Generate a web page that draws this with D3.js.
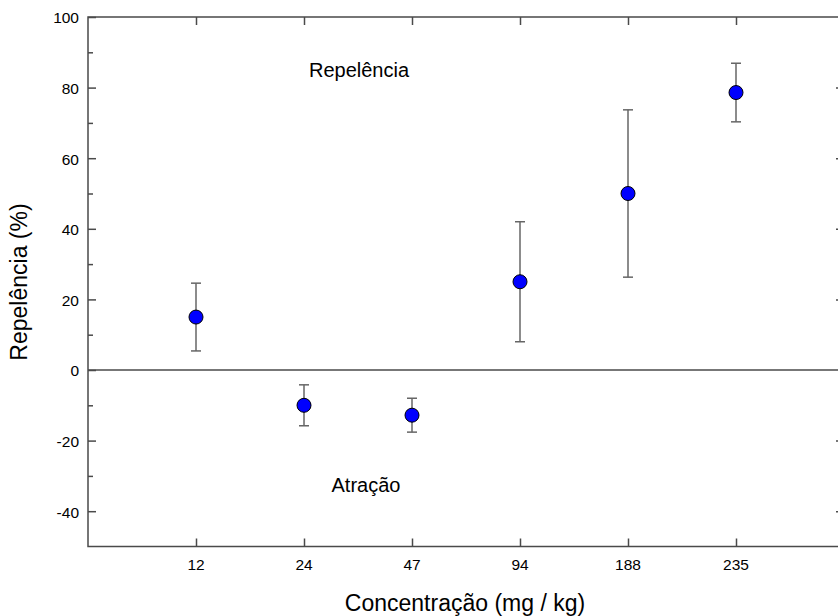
<!DOCTYPE html>
<html>
<head>
<meta charset="utf-8">
<script src="https://cdn.jsdelivr.net/npm/d3@7"></script>
<style>
  body { margin: 0; background: #fff; }
  text { font-family: "Liberation Sans", Arial, sans-serif; fill: #000; }
</style>
</head>
<body>
<div id="chart"></div>
<script>
// data
const concentrations = ["12", "24", "47", "94", "188", "235"];
const means = [15, -10, -12.8, 25, 50, 78.6];
const errors = [9.6, 5.8, 4.8, 17, 23.7, 8.3];
const yMajor = [-40, -20, 0, 20, 40, 60, 80, 100];
const yMinor = [-30, -10, 10, 30, 50, 70, 90];

const width = 838, height = 616;
const margin = { top: 17, left: 88 };
const plotBottom = 546.5;

const svg = d3.select("#chart").append("svg")
  .attr("width", width)
  .attr("height", height);

// x: category index 0..7, the frame runs past the right edge of the picture
const x = d3.scaleLinear().domain([0, 7]).range([margin.left, 844]);
const y = d3.scaleLinear().domain([-50, 100]).range([plotBottom, margin.top]);

const axisColor = "#4a4a4a";

// frame
svg.append("rect")
  .attr("x", x(0)).attr("y", y(100))
  .attr("width", x(7) - x(0)).attr("height", y(-50) - y(100))
  .attr("fill", "none").attr("stroke", axisColor).attr("stroke-width", 1.5);

// zero line
svg.append("line")
  .attr("x1", x(0)).attr("x2", x(7))
  .attr("y1", y(0)).attr("y2", y(0))
  .attr("stroke", axisColor).attr("stroke-width", 1.5);

// left axis: major ticks with labels, minor ticks without
const left = svg.append("g").attr("transform", `translate(${x(0)},0)`);
left.call(d3.axisRight(y).tickValues(yMajor).tickSize(8).tickFormat(""))
  .call(g => g.select(".domain").remove())
  .call(g => g.selectAll("line").attr("stroke", axisColor).attr("stroke-width", 1.5));
left.append("g")
  .call(d3.axisRight(y).tickValues(yMinor).tickSize(5).tickFormat(""))
  .call(g => g.select(".domain").remove())
  .call(g => g.selectAll("line").attr("stroke", axisColor).attr("stroke-width", 1.5));
left.selectAll(".ylab").data(yMajor).enter().append("text")
  .attr("class", "ylab")
  .attr("x", -9)
  .attr("y", d => y(d) + 1)
  .attr("dy", "0.35em")
  .attr("text-anchor", "end")
  .attr("font-size", "15.5px")
  .text(d => d);

// right axis ticks (inward)
svg.append("g").attr("transform", `translate(${x(7)},0)`)
  .call(d3.axisLeft(y).tickValues(yMajor.filter(d => d !== 0 && d !== 100)).tickSize(8).tickFormat(""))
  .call(g => g.select(".domain").remove())
  .call(g => g.selectAll("line").attr("stroke", axisColor).attr("stroke-width", 1.5));

// bottom and top ticks, pointing inward
const xTicks = concentrations.map((c, i) => i + 1);
svg.append("g").attr("transform", `translate(0,${plotBottom})`)
  .call(d3.axisTop(x).tickValues(xTicks).tickSize(8).tickFormat(""))
  .call(g => g.select(".domain").remove())
  .call(g => g.selectAll("line").attr("stroke", axisColor).attr("stroke-width", 1.5));
svg.append("g").attr("transform", `translate(0,${y(100)})`)
  .call(d3.axisBottom(x).tickValues(xTicks).tickSize(8).tickFormat(""))
  .call(g => g.select(".domain").remove())
  .call(g => g.selectAll("line").attr("stroke", axisColor).attr("stroke-width", 1.5));
svg.selectAll(".xlab").data(concentrations).enter().append("text")
  .attr("class", "xlab")
  .attr("x", (d, i) => x(i + 1))
  .attr("y", 570)
  .attr("text-anchor", "middle")
  .attr("font-size", "15.5px")
  .text(d => d);

// error bars
const pts = concentrations.map((c, i) => ({ i: i + 1, m: means[i], e: errors[i] }));
const eb = svg.append("g").attr("stroke", "#666").attr("stroke-width", 1.5);
eb.selectAll(".v").data(pts).enter().append("line")
  .attr("x1", d => x(d.i)).attr("x2", d => x(d.i))
  .attr("y1", d => y(d.m + d.e)).attr("y2", d => y(d.m - d.e));
eb.selectAll(".ct").data(pts).enter().append("line")
  .attr("x1", d => x(d.i) - 5).attr("x2", d => x(d.i) + 5)
  .attr("y1", d => y(d.m + d.e)).attr("y2", d => y(d.m + d.e));
eb.selectAll(".cb").data(pts).enter().append("line")
  .attr("x1", d => x(d.i) - 5).attr("x2", d => x(d.i) + 5)
  .attr("y1", d => y(d.m - d.e)).attr("y2", d => y(d.m - d.e));

// points
svg.selectAll("circle").data(pts).enter().append("circle")
  .attr("cx", d => x(d.i)).attr("cy", d => y(d.m))
  .attr("r", 7)
  .attr("fill", "#0000ff")
  .attr("stroke", "#000")
  .attr("stroke-width", 1);

// annotations
svg.append("text").attr("x", 359).attr("y", 77)
  .attr("text-anchor", "middle").attr("font-size", "20px").text("Repelência");
svg.append("text").attr("x", 366).attr("y", 492)
  .attr("text-anchor", "middle").attr("font-size", "20px").text("Atração");

// axis titles
svg.append("text").attr("x", 465).attr("y", 611)
  .attr("text-anchor", "middle").attr("font-size", "23px").text("Concentração (mg / kg)");
svg.append("text")
  .attr("transform", `translate(27,282) rotate(-90)`)
  .attr("text-anchor", "middle").attr("font-size", "23px").text("Repelência (%)");
</script>
</body>
</html>
